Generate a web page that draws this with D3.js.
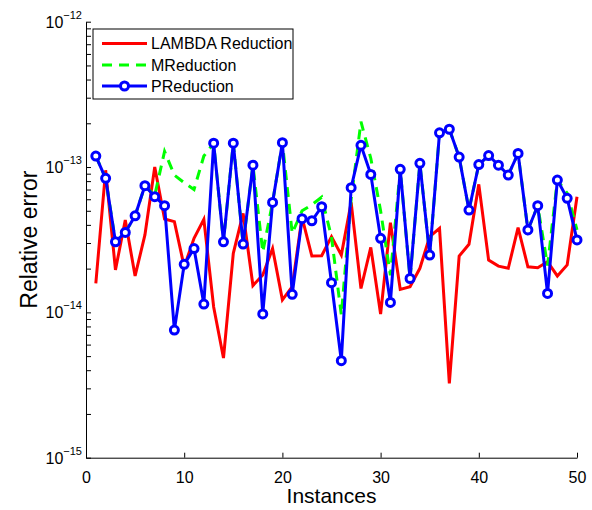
<!DOCTYPE html>
<html>
<head>
<meta charset="utf-8">
<script src="https://cdn.jsdelivr.net/npm/d3@7"></script>
<style>
  html, body { margin: 0; padding: 0; background: #fff; }
  svg { display: block; font-family: "Liberation Sans", Arial, Helvetica, sans-serif; }
</style>
</head>
<body>
<svg id="chart" width="592" height="510"></svg>
<script>
// ---- data ----
const instances = [1,2,3,4,5,6,7,8,9,10,11,12,13,14,15,16,17,18,19,20,21,22,23,24,25,
                   26,27,28,29,30,31,32,33,34,35,36,37,38,39,40,41,42,43,44,45,46,47,48,49,50];

const lambdaReduction = [1.58e-14, 9.5e-14, 1.96e-14, 4.32e-14, 1.78e-14, 3.41e-14, 1.0e-13, 4.39e-14, 4.21e-14, 2.06e-14,
                         3.23e-14, 4.36e-14, 1.09e-14, 4.85e-15, 2.55e-14, 4.8e-14, 1.53e-14, 1.81e-14, 2.75e-14, 1.22e-14,
                         1.5e-14, 4.51e-14, 2.44e-14, 2.45e-14, 3.32e-14, 2.48e-14, 5.71e-14, 1.46e-14, 2.8e-14, 9.75e-15,
                         4.14e-14, 1.44e-14, 1.5e-14, 2.01e-14, 3.32e-14, 3.79e-14, 3.25e-15, 2.44e-14, 2.94e-14, 7.6e-14,
                         2.29e-14, 2.08e-14, 2.01e-14, 3.83e-14, 2.06e-14, 2.03e-14, 2.23e-14, 1.78e-14, 2.12e-14, 6.25e-14];

const mReduction = [1.19e-13, 8.36e-14, 3.06e-14, 3.55e-14, 4.62e-14, 7.44e-14, 6.4e-14, 1.28e-13, 8.8e-14, 7.8e-14,
                    7.0e-14, 1.19e-13, 1.46e-13, 3.06e-14, 1.46e-13, 2.95e-14, 1.03e-13, 2.6e-14, 5.71e-14, 1.47e-13,
                    3.5e-14, 5.0e-14, 5.5e-14, 6.2e-14, 3.3e-14, 9.6e-15, 6.0e-14, 2.05e-13, 1.15e-13, 5.0e-14,
                    1.8e-14, 9.64e-14, 1.71e-14, 1.06e-13, 2.48e-14, 1.72e-13, 1.82e-13, 1.17e-13, 5.06e-14, 1.04e-13,
                    1.2e-13, 1.03e-13, 8.81e-14, 1.24e-13, 3.69e-14, 5.42e-14, 2.1e-14, 8.14e-14, 6.6e-14, 3.7e-14];

const pReduction = [1.19e-13, 8.36e-14, 3.06e-14, 3.55e-14, 4.62e-14, 7.44e-14, 6.25e-14, 5.42e-14, 7.55e-15, 2.14e-14,
                    2.75e-14, 1.14e-14, 1.46e-13, 3.06e-14, 1.46e-13, 2.95e-14, 1.03e-13, 9.75e-15, 5.71e-14, 1.47e-13,
                    1.33e-14, 4.41e-14, 4.27e-14, 5.33e-14, 1.6e-14, 4.65e-15, 7.21e-14, 1.41e-13, 8.9e-14, 3.23e-14,
                    1.17e-14, 9.64e-14, 1.71e-14, 1.06e-13, 2.48e-14, 1.72e-13, 1.82e-13, 1.17e-13, 5.06e-14, 1.04e-13,
                    1.2e-13, 1.03e-13, 8.81e-14, 1.24e-13, 3.69e-14, 5.42e-14, 1.35e-14, 8.14e-14, 6.09e-14, 3.15e-14];

const seriesNames = ["LAMBDA Reduction", "MReduction", "PReduction"];
const xTicks = [0, 10, 20, 30, 40, 50];
const yTickExponents = [-12, -13, -14, -15];
const xDomain = [0, 50];
const yDomain = [1e-15, 1e-12];

// ---- layout ----
const svg = d3.select("#chart");
const L = 86, R = 577, T = 21.7, B = 457.7;
const x = d3.scaleLinear().domain(xDomain).range([L, R]);
const y = d3.scaleLog().domain(yDomain).range([B, T]);

// ---- axes ----
const gx = svg.append("g").attr("transform", `translate(0,${B})`)
  .call(d3.axisBottom(x).tickValues(xTicks).tickSizeInner(-5).tickSizeOuter(0).tickPadding(14));
gx.select(".domain").attr("stroke", "#000").attr("stroke-width", 1);
gx.selectAll(".tick line").attr("stroke", "#000");
gx.selectAll(".tick text").attr("font-size", 16).attr("fill", "#000")
  .attr("font-family", "Liberation Sans, Arial, sans-serif");

const minorVals = [];
for (let e = -15; e < -12; e++) for (let m = 1; m <= 9; m++) minorVals.push(m * Math.pow(10, e));
minorVals.push(1e-12);

const gy = svg.append("g").attr("transform", `translate(${L},0)`)
  .call(d3.axisLeft(y).tickValues(minorVals).tickSizeInner(-5).tickSizeOuter(0).tickFormat(""));
gy.select(".domain").attr("stroke", "#000").attr("stroke-width", 1);
gy.selectAll(".tick line").attr("stroke", "#000");

// y tick labels 10^e
const ylab = svg.append("g");
yTickExponents.forEach(e => {
  const t = ylab.append("text")
    .attr("x", 82).attr("y", y(Math.pow(10, e)) + 6)
    .attr("text-anchor", "end").attr("fill", "#000");
  t.append("tspan").attr("font-size", 16).text("10");
  t.append("tspan").attr("font-size", 11).attr("dy", -9).text("\u2212" + (-e));
});

// axis titles
svg.append("text").attr("x", (L + R) / 2).attr("y", 503).attr("text-anchor", "middle")
  .attr("font-size", 21).attr("fill", "#000").text("Instances");
svg.append("text").attr("transform", `translate(37,${(T + B) / 2}) rotate(-90)`)
  .attr("text-anchor", "middle").attr("font-size", 23).attr("fill", "#000").text("Relative error");

// ---- lines ----
const line = d3.line().x((d, i) => x(instances[i])).y(d => y(d));
const plot = svg.append("g");
plot.append("path").datum(lambdaReduction).attr("d", line)
  .attr("fill", "none").attr("stroke", "#ff0000").attr("stroke-width", 3).attr("stroke-linejoin", "miter");
plot.append("path").datum(mReduction).attr("d", line)
  .attr("fill", "none").attr("stroke", "#00ff00").attr("stroke-width", 3).attr("stroke-dasharray", "10,7");
plot.append("path").datum(pReduction).attr("d", line)
  .attr("fill", "none").attr("stroke", "#0000ff").attr("stroke-width", 3);
plot.selectAll("circle.p").data(pReduction).join("circle").attr("class", "p")
  .attr("cx", (d, i) => x(instances[i])).attr("cy", d => y(d)).attr("r", 4)
  .attr("fill", "#fff").attr("stroke", "#0000ff").attr("stroke-width", 3);

// ---- legend ----
const lg = svg.append("g");
lg.append("rect").attr("x", 93).attr("y", 29).attr("width", 200).attr("height", 70)
  .attr("fill", "#fff").attr("stroke", "#000").attr("stroke-width", 1);
const rows = [43.5, 65, 86];
const colors = ["#ff0000", "#00ff00", "#0000ff"];
rows.forEach((ry, i) => {
  const l = lg.append("line").attr("x1", 102).attr("x2", 147).attr("y1", ry).attr("y2", ry)
    .attr("stroke", colors[i]).attr("stroke-width", 3);
  if (i === 1) l.attr("stroke-dasharray", "10,7");
  if (i === 2) lg.append("circle").attr("cx", 124.5).attr("cy", ry).attr("r", 4)
    .attr("fill", "#fff").attr("stroke", colors[i]).attr("stroke-width", 3);
  lg.append("text").attr("x", 151).attr("y", ry + 5.5).attr("font-size", 16)
    .attr("fill", "#000").text(seriesNames[i]);
});
</script>
</body>
</html>
